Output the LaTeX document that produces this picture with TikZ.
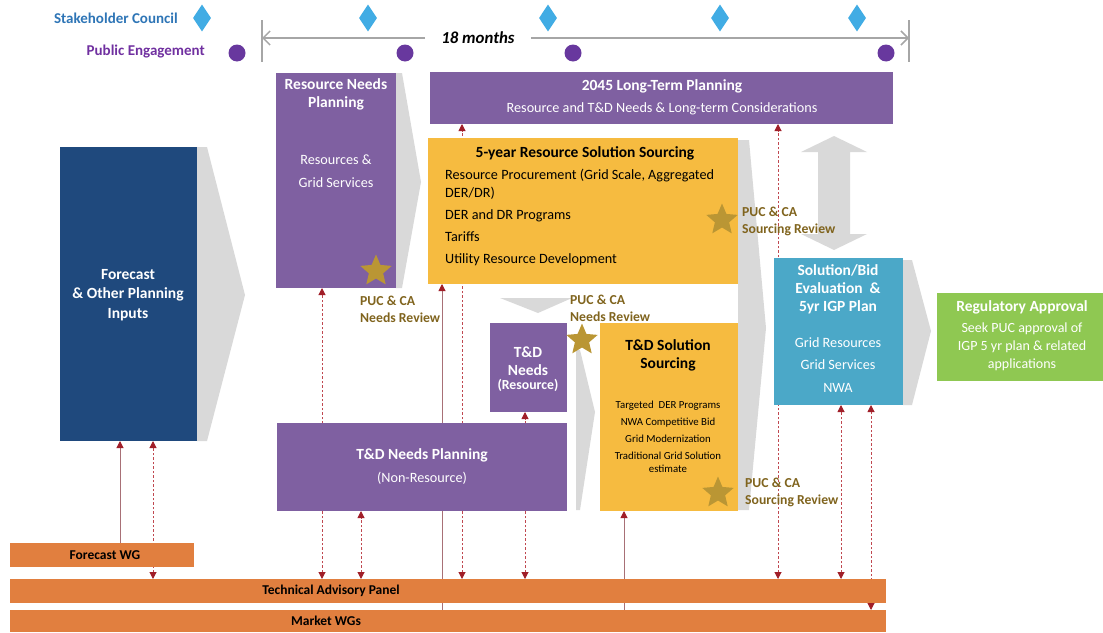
\documentclass[tikz,border=0pt]{standalone}
\usepackage{fontspec}
\setmainfont{Carlito}
\usetikzlibrary{arrows.meta,shapes.geometric,positioning}

\pgfdeclarelayer{back}
\pgfsetlayers{back,main}

\definecolor{fcnavy}{RGB}{31,73,125}
\definecolor{rnpurple}{RGB}{127,96,161}
\definecolor{srcgold}{RGB}{246,187,64}
\definecolor{solblue}{RGB}{75,168,200}
\definecolor{regreen}{RGB}{143,200,82}
\definecolor{wgorange}{RGB}{225,127,63}
\definecolor{chevgray}{RGB}{217,217,217}
\definecolor{stargold}{RGB}{186,150,52}
\definecolor{puccol}{RGB}{128,100,30}
\definecolor{scblue}{RGB}{46,117,182}
\definecolor{scdia}{RGB}{65,172,228}
\definecolor{pepurp}{RGB}{112,48,160}
\definecolor{pedot}{RGB}{104,56,158}
\definecolor{tlgray}{RGB}{166,166,166}
\definecolor{dashred}{RGB}{192,72,80}
\definecolor{solidred}{RGB}{168,112,118}
\definecolor{arrred}{RGB}{160,30,40}

\newcommand\ttlfont{\fontsize{15.5}{18}\selectfont\bfseries}
\newcommand\sclfont{\fontsize{15}{18}\selectfont\bfseries}
\newcommand\itmfont{\fontsize{14.2}{22.5}\selectfont}
\newcommand\lstfont{\fontsize{14.2}{18}\selectfont}
\newcommand\regfont{\fontsize{14}{18}\selectfont}
\newcommand\smlfont{\fontsize{10.8}{17}\selectfont}
\newcommand\parfont{\fontsize{13.8}{15}\selectfont\bfseries}
\newcommand\pucfont{\fontsize{13.7}{17}\selectfont\bfseries}
\newcommand\barfnt{\fontsize{13.5}{15}\selectfont\bfseries}
\newcommand\monfont{\fontsize{16.8}{18}\selectfont\bfseries\itshape}

\tikzset{
  redtip/.tip={Triangle[length=7pt,width=7pt,color=arrred]},
  box/.style 2 args={anchor=north west, inner sep=0pt, outer sep=0pt, minimum width=#1pt, minimum height=#2pt},
  wtext/.style={text=white, align=center, inner sep=0pt},
  ktext/.style={text=black, align=center, inner sep=0pt},
  puc/.style={text=puccol, align=left, anchor=west, inner sep=0pt, font=\pucfont},
  starmark/.style={star, star points=5, star point ratio=2.2, minimum size=33pt, inner sep=0pt, fill=stargold},
  scmark/.style={diamond, fill=scdia, minimum width=18pt, minimum height=27pt, inner sep=0pt},
  pemark/.style={circle, fill=pedot, minimum size=17pt, inner sep=0pt},
  chev/.style={fill=chevgray},
  tlarrow/.style={draw=tlgray, line width=1.5pt, -{Straight Barb[length=7pt,width=14pt]}},
  tltick/.style={draw=tlgray, line width=1.5pt},
  solidlink/.style={draw=solidred, line width=1pt, -redtip},
  dashlink/.style={draw=dashred, line width=1pt, dash pattern=on 2.5pt off 2pt, redtip-redtip}
}

\begin{document}
\begin{tikzpicture}[x=1pt, y=-1pt]
  \useasboundingbox (0,0) rectangle (1103,632);

  % top: council, engagement, 18 months
  \node[font=\sclfont, text=scblue, anchor=east, inner sep=0pt] (sc) at (178,18) {Stakeholder Council};
  \node[font=\sclfont, text=pepurp, anchor=east, inner sep=0pt] (pe) at (205,52) {Public Engagement};
  \node[scmark] (d1) at (202,18) {};
  \node[scmark] (d2) at (368,18) {};
  \node[scmark] (d3) at (548,18) {};
  \node[scmark] (d4) at (720,18) {};
  \node[scmark] (d5) at (857,18) {};
  \node[pemark] (c1) at (237,53) {};
  \node[pemark] (c2) at (405,53) {};
  \node[pemark] (c3) at (573,53) {};
  \node[pemark] (c4) at (886,53) {};

  \coordinate (tl) at (262,38);
  \coordinate (tr) at (909,38);
  \node[font=\monfont, inner xsep=16pt, inner ysep=0pt] (mon) at (478,38) {18 months};
  \draw[tlarrow] (mon.west) -- (tl);
  \draw[tlarrow] (mon.east) -- (tr);
  \draw[tltick] ([yshift=18pt]tl) -- ([yshift=-24pt]tl);
  \draw[tltick] ([yshift=18pt]tr) -- ([yshift=-24pt]tr);

  % boxes
  \node[box={137}{294}, fill=fcnavy] (fc) at (60,147) {};
  \node[box={120}{215}, fill=rnpurple] (rnp) at (276,73) {};
  \node[box={463}{52}, fill=rnpurple] (lt) at (430,72) {};
  \node[box={310}{146}, fill=srcgold] (yr5) at (428,138) {};
  \node[box={77}{89}, fill=rnpurple] (tdn) at (490,323) {};
  \node[box={290}{88}, fill=rnpurple] (tnp) at (277,423) {};
  \node[box={138}{188}, fill=srcgold] (tds) at (600,323) {};
  \node[box={129}{147}, fill=solblue] (sol) at (774,258) {};
  \node[box={166}{88}, fill=regreen] (reg) at (937,293) {};
  \node[box={184}{24}, fill=wgorange] (fwg) at (10,543) {};
  \node[box={876}{24}, fill=wgorange] (tap) at (10,579) {};
  \node[box={876}{22}, fill=wgorange] (mwg) at (10,610) {};

  \node[wtext, font=\ttlfont] (fcT) at (128,295) {Forecast\\[1.5pt]\& Other Planning\\[1.5pt]Inputs};
  \node[wtext, font=\ttlfont] (rnpT) at (336,94) {Resource Needs\\Planning};
  \node[wtext, font=\itmfont] (rnpI) at (336,171) {Resources \&\\Grid Services};
  \node[wtext, font=\ttlfont] (ltT) at (662,86) {2045 Long-Term Planning};
  \node[wtext, font=\itmfont] (ltI) at (662,109) {Resource and T\&D Needs \& Long-term Considerations};
  \node[ktext, font=\ttlfont] (yr5T) at (585,153) {5-year Resource Solution Sourcing};
  \node[ktext, font=\lstfont, align=left, anchor=west] (yr5I) at (445,217) {Resource Procurement (Grid Scale, Aggregated\\DER/DR)\\[4pt]DER and DR Programs\\[4pt]Tariffs\\[4pt]Utility Resource Development};
  \node[wtext, font=\ttlfont] (tdnT) at (528,361) {T\&D\\Needs};
  \node[wtext, font=\parfont] (tdnI) at (528,385) {(Resource)};
  \node[wtext, font=\ttlfont] (tnpT) at (422,455) {T\&D Needs Planning};
  \node[wtext, font=\itmfont] (tnpI) at (422,478) {(Non-Resource)};
  \node[ktext, font=\ttlfont] (tdsT) at (668,355) {T\&D Solution\\Sourcing};
  \node[ktext, font=\smlfont] (tdsI) at (668,437) {Targeted~~DER Programs\\NWA Competitive Bid\\Grid Modernization\\Traditional Grid Solution\\[-4pt]estimate};
  \node[wtext, font=\ttlfont] (solT) at (838,289) {Solution/Bid\\Evaluation~~\&\\5yr IGP Plan};
  \node[wtext, font=\itmfont] (solI) at (838,365) {Grid Resources\\Grid Services\\NWA};
  \node[wtext, font=\ttlfont] (regT) at (1022,307) {Regulatory Approval};
  \node[wtext, font=\regfont] (regI) at (1022,347) {Seek PUC approval of\\IGP 5 yr plan \& related\\applications};
  \node[ktext, font=\barfnt] (fwgT) at (105,555) {Forecast WG};
  \node[ktext, font=\barfnt] (tapT) at (331,591) {Technical Advisory Panel};
  \node[ktext, font=\barfnt] (mwgT) at (326,621) {Market WGs};

  % reviews
  \node[starmark] (s1) at (376,271) {};
  \node[starmark] (s2) at (722,220) {};
  \node[starmark] (s3) at (582,340) {};
  \node[starmark] (s4) at (718,493) {};
  \node[puc] (p1) at (360,309) {PUC \& CA\\Needs Review};
  \node[puc] (p2) at (742,221) {PUC \& CA\\Sourcing Review};
  \node[puc] (p3) at (570,308) {PUC \& CA\\Needs Review};
  \node[puc] (p4) at (745,492) {PUC \& CA\\Sourcing Review};

  \begin{pgfonlayer}{back}
  \fill[chev] (197,147) -- (207,147) -- (245,295) -- (207,441) -- (197,441) -- cycle;
  \fill[chev] (396,73) -- (402,73) -- (421,182) -- (402,288) -- (396,288) -- cycle;
  \fill[chev] (500,298) -- (572,298) -- (538,313) -- cycle;
  \fill[chev] (576,350) -- (580,350) -- (595,412) -- (580,510) -- (576,510) -- cycle;
  \fill[chev] (738,140) -- (749,140) -- (766,328) -- (749,510) -- (738,510) -- cycle;
  \fill[chev] (903,260) -- (912,260) -- (931,331) -- (912,405) -- (903,405) -- cycle;
  \fill[chev] (834,136) -- (867,152) -- (850,152) -- (850,234) -- (867,234) -- (834,250)
    -- (801,234) -- (818,234) -- (818,152) -- (801,152) -- cycle;

  \draw[solidlink] (fwg.north -| 120,0) -- (fc.south -| 120,0);
  \draw[dashlink] (tap.north -| 153,0) -- (fc.south -| 153,0);
  \draw[dashlink] (tap.north -| 322,0) -- (rnp.south -| 322,0);
  \draw[dashlink] (tap.north -| 361,0) -- (tnp.south -| 361,0);
  \draw[solidlink] (mwg.north -| 442,0) -- (yr5.south -| 442,0);
  \draw[dashlink] (tap.north -| 462,0) -- (lt.south -| 462,0);
  \draw[dashlink] (tap.north -| 525,0) -- (tdn.south -| 525,0);
  \draw[solidlink] (mwg.north -| 624,0) -- (tds.south -| 624,0);
  \draw[dashlink] (tap.north -| 778,0) -- (lt.south -| 778,0);
  \draw[dashlink] (tap.north -| 841,0) -- (sol.south -| 841,0);
  \draw[dashlink] (mwg.north -| 871,0) -- (sol.south -| 871,0);
  \end{pgfonlayer}
\end{tikzpicture}
\end{document}
